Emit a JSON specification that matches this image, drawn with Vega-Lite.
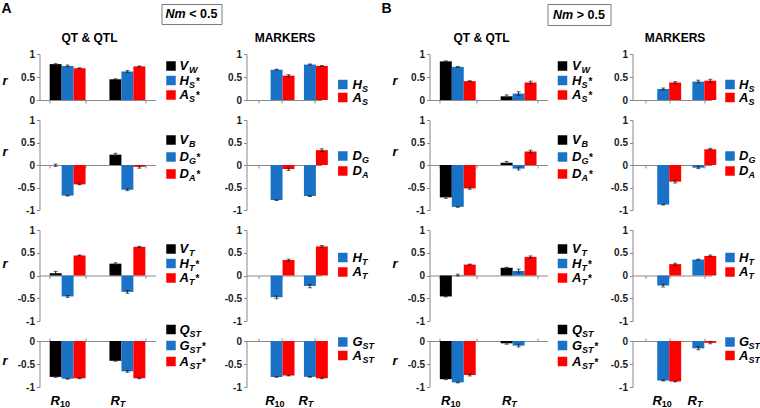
{
"$schema": "https://vega.github.io/schema/vega-lite/v6.json",
"autosize": {"type": "pad"},
"padding": {"left": 1.5, "top": 2, "right": 0, "bottom": 0},
"columns": 8,
"spacing": {"row": 20, "column": 0},
"align": "each",
"bounds": "flush",
"datasets": {
"hdr": [{"c":"A","t1":"Nm","t2":"< 0.5"},{"c":"B","t1":"Nm","t2":"> 0.5"}],
"leg": [
{"lg":"Q1","e":1,"b":"Q","m":"V","s":"W","st":""},{"lg":"Q1","e":2,"b":"G","m":"H","s":"S","st":"*"},{"lg":"Q1","e":3,"b":"A","m":"A","s":"S","st":"*"},
{"lg":"M1","e":1,"b":"G","m":"H","s":"S","st":""},{"lg":"M1","e":2,"b":"A","m":"A","s":"S","st":""},
{"lg":"Q2","e":1,"b":"Q","m":"V","s":"B","st":""},{"lg":"Q2","e":2,"b":"G","m":"D","s":"G","st":"*"},{"lg":"Q2","e":3,"b":"A","m":"D","s":"A","st":"*"},
{"lg":"M2","e":1,"b":"G","m":"D","s":"G","st":""},{"lg":"M2","e":2,"b":"A","m":"D","s":"A","st":""},
{"lg":"Q3","e":1,"b":"Q","m":"V","s":"T","st":""},{"lg":"Q3","e":2,"b":"G","m":"H","s":"T","st":"*"},{"lg":"Q3","e":3,"b":"A","m":"A","s":"T","st":"*"},
{"lg":"M3","e":1,"b":"G","m":"H","s":"T","st":""},{"lg":"M3","e":2,"b":"A","m":"A","s":"T","st":""},
{"lg":"Q4","e":1,"b":"Q","m":"Q","s":"ST","st":""},{"lg":"Q4","e":2,"b":"G","m":"G","s":"ST","st":"*"},{"lg":"Q4","e":3,"b":"A","m":"A","s":"ST","st":"*"},
{"lg":"M4","e":1,"b":"G","m":"G","s":"ST","st":""},{"lg":"M4","e":2,"b":"A","m":"A","s":"ST","st":""}
],
"bars": [
{"p":"A_Q1","g":"R10","b":"Q","v":0.78,"lo":0.77,"hi":0.79},
{"p":"A_Q1","g":"R10","b":"G","v":0.74,"lo":0.72,"hi":0.76},
{"p":"A_Q1","g":"R10","b":"A","v":0.69,"lo":0.68,"hi":0.70},
{"p":"A_Q1","g":"RT","b":"Q","v":0.45,"lo":0.44,"hi":0.46},
{"p":"A_Q1","g":"RT","b":"G","v":0.62,"lo":0.60,"hi":0.64},
{"p":"A_Q1","g":"RT","b":"A","v":0.73,"lo":0.72,"hi":0.74},
{"p":"A_M1","g":"R10","b":"G","v":0.66,"lo":0.65,"hi":0.67},
{"p":"A_M1","g":"R10","b":"A","v":0.53,"lo":0.51,"hi":0.55},
{"p":"A_M1","g":"RT","b":"G","v":0.77,"lo":0.76,"hi":0.78},
{"p":"A_M1","g":"RT","b":"A","v":0.74,"lo":0.73,"hi":0.75},
{"p":"A_Q2","g":"R10","b":"Q","v":0.0,"lo":-0.03,"hi":0.02},
{"p":"A_Q2","g":"R10","b":"G","v":-0.68,"lo":-0.69,"hi":-0.67},
{"p":"A_Q2","g":"R10","b":"A","v":-0.43,"lo":-0.44,"hi":-0.42},
{"p":"A_Q2","g":"RT","b":"Q","v":0.23,"lo":0.21,"hi":0.26},
{"p":"A_Q2","g":"RT","b":"G","v":-0.55,"lo":-0.57,"hi":-0.53},
{"p":"A_Q2","g":"RT","b":"A","v":-0.04,"lo":-0.07,"hi":-0.02},
{"p":"A_M2","g":"R10","b":"G","v":-0.78,"lo":-0.79,"hi":-0.77},
{"p":"A_M2","g":"R10","b":"A","v":-0.09,"lo":-0.12,"hi":-0.07},
{"p":"A_M2","g":"RT","b":"G","v":-0.69,"lo":-0.70,"hi":-0.68},
{"p":"A_M2","g":"RT","b":"A","v":0.33,"lo":0.30,"hi":0.36},
{"p":"A_Q3","g":"R10","b":"Q","v":0.05,"lo":0.02,"hi":0.09},
{"p":"A_Q3","g":"R10","b":"G","v":-0.46,"lo":-0.48,"hi":-0.44},
{"p":"A_Q3","g":"R10","b":"A","v":0.44,"lo":0.43,"hi":0.45},
{"p":"A_Q3","g":"RT","b":"Q","v":0.26,"lo":0.24,"hi":0.28},
{"p":"A_Q3","g":"RT","b":"G","v":-0.36,"lo":-0.39,"hi":-0.33},
{"p":"A_Q3","g":"RT","b":"A","v":0.63,"lo":0.62,"hi":0.64},
{"p":"A_M3","g":"R10","b":"G","v":-0.48,"lo":-0.51,"hi":-0.45},
{"p":"A_M3","g":"R10","b":"A","v":0.34,"lo":0.32,"hi":0.36},
{"p":"A_M3","g":"RT","b":"G","v":-0.23,"lo":-0.27,"hi":-0.20},
{"p":"A_M3","g":"RT","b":"A","v":0.64,"lo":0.62,"hi":0.66},
{"p":"A_Q4","g":"R10","b":"Q","v":-0.78,"lo":-0.79,"hi":-0.77},
{"p":"A_Q4","g":"R10","b":"G","v":-0.82,"lo":-0.83,"hi":-0.81},
{"p":"A_Q4","g":"R10","b":"A","v":-0.81,"lo":-0.82,"hi":-0.80},
{"p":"A_Q4","g":"RT","b":"Q","v":-0.43,"lo":-0.44,"hi":-0.42},
{"p":"A_Q4","g":"RT","b":"G","v":-0.66,"lo":-0.68,"hi":-0.64},
{"p":"A_Q4","g":"RT","b":"A","v":-0.81,"lo":-0.82,"hi":-0.80},
{"p":"A_M4","g":"R10","b":"G","v":-0.78,"lo":-0.79,"hi":-0.77},
{"p":"A_M4","g":"R10","b":"A","v":-0.75,"lo":-0.76,"hi":-0.74},
{"p":"A_M4","g":"RT","b":"G","v":-0.78,"lo":-0.79,"hi":-0.77},
{"p":"A_M4","g":"RT","b":"A","v":-0.81,"lo":-0.82,"hi":-0.80},
{"p":"B_Q1","g":"R10","b":"Q","v":0.84,"lo":0.83,"hi":0.85},
{"p":"B_Q1","g":"R10","b":"G","v":0.72,"lo":0.71,"hi":0.73},
{"p":"B_Q1","g":"R10","b":"A","v":0.41,"lo":0.40,"hi":0.42},
{"p":"B_Q1","g":"RT","b":"Q","v":0.08,"lo":0.05,"hi":0.11},
{"p":"B_Q1","g":"RT","b":"G","v":0.14,"lo":0.10,"hi":0.18},
{"p":"B_Q1","g":"RT","b":"A","v":0.38,"lo":0.35,"hi":0.41},
{"p":"B_M1","g":"R10","b":"G","v":0.24,"lo":0.22,"hi":0.26},
{"p":"B_M1","g":"R10","b":"A","v":0.38,"lo":0.36,"hi":0.40},
{"p":"B_M1","g":"RT","b":"G","v":0.40,"lo":0.37,"hi":0.43},
{"p":"B_M1","g":"RT","b":"A","v":0.42,"lo":0.39,"hi":0.45},
{"p":"B_Q2","g":"R10","b":"Q","v":-0.72,"lo":-0.74,"hi":-0.70},
{"p":"B_Q2","g":"R10","b":"G","v":-0.93,"lo":-0.94,"hi":-0.92},
{"p":"B_Q2","g":"R10","b":"A","v":-0.52,"lo":-0.54,"hi":-0.50},
{"p":"B_Q2","g":"RT","b":"Q","v":0.05,"lo":0.03,"hi":0.08},
{"p":"B_Q2","g":"RT","b":"G","v":-0.08,"lo":-0.11,"hi":-0.06},
{"p":"B_Q2","g":"RT","b":"A","v":0.30,"lo":0.27,"hi":0.33},
{"p":"B_M2","g":"R10","b":"G","v":-0.88,"lo":-0.89,"hi":-0.87},
{"p":"B_M2","g":"R10","b":"A","v":-0.37,"lo":-0.40,"hi":-0.34},
{"p":"B_M2","g":"RT","b":"G","v":-0.06,"lo":-0.08,"hi":-0.03},
{"p":"B_M2","g":"RT","b":"A","v":0.35,"lo":0.34,"hi":0.37},
{"p":"B_Q3","g":"R10","b":"Q","v":-0.46,"lo":-0.47,"hi":-0.45},
{"p":"B_Q3","g":"R10","b":"G","v":0.01,"lo":-0.01,"hi":0.03},
{"p":"B_Q3","g":"R10","b":"A","v":0.24,"lo":0.23,"hi":0.25},
{"p":"B_Q3","g":"RT","b":"Q","v":0.17,"lo":0.16,"hi":0.18},
{"p":"B_Q3","g":"RT","b":"G","v":0.10,"lo":0.06,"hi":0.14},
{"p":"B_Q3","g":"RT","b":"A","v":0.41,"lo":0.38,"hi":0.43},
{"p":"B_M3","g":"R10","b":"G","v":-0.22,"lo":-0.25,"hi":-0.19},
{"p":"B_M3","g":"R10","b":"A","v":0.25,"lo":0.22,"hi":0.27},
{"p":"B_M3","g":"RT","b":"G","v":0.35,"lo":0.34,"hi":0.36},
{"p":"B_M3","g":"RT","b":"A","v":0.43,"lo":0.42,"hi":0.45},
{"p":"B_Q4","g":"R10","b":"Q","v":-0.83,"lo":-0.84,"hi":-0.82},
{"p":"B_Q4","g":"R10","b":"G","v":-0.90,"lo":-0.91,"hi":-0.89},
{"p":"B_Q4","g":"R10","b":"A","v":-0.74,"lo":-0.76,"hi":-0.72},
{"p":"B_Q4","g":"RT","b":"Q","v":-0.05,"lo":-0.07,"hi":-0.03},
{"p":"B_Q4","g":"RT","b":"G","v":-0.10,"lo":-0.13,"hi":-0.07},
{"p":"B_M4","g":"R10","b":"G","v":-0.86,"lo":-0.87,"hi":-0.85},
{"p":"B_M4","g":"R10","b":"A","v":-0.88,"lo":-0.89,"hi":-0.87},
{"p":"B_M4","g":"RT","b":"G","v":-0.16,"lo":-0.19,"hi":-0.12},
{"p":"B_M4","g":"RT","b":"A","v":-0.04,"lo":-0.06,"hi":-0.01}
]
},
"concat": [
{"width":122,"height":30,"title":{"text":"A","anchor":"start","dx":-38,"dy":12,"fontSize":14,"baseline":"top","offset":0},"data":{"values":[]},"mark":"point"},
{"width":60,"height":20,"view":{"stroke":"#7a7a7a","strokeWidth":1},"data":{"name":"hdr"},"transform":[{"filter":"datum.c=='A'"}],
 "layer":[
 {"mark":{"type":"text","align":"right","baseline":"middle","dx":-5.8,"fontSize":12.5,"fontWeight":"bold","fontStyle":"italic"},"encoding":{"text":{"field":"t1"}}},
 {"mark":{"type":"text","align":"left","baseline":"middle","dx":-2.3,"fontSize":12.5,"fontWeight":"bold"},"encoding":{"text":{"field":"t2"}}}]},
{"width":10,"height":30,"title":{"text":"B","anchor":"start","dx":135,"dy":12,"fontSize":14,"baseline":"top","offset":0},"data":{"values":[]},"mark":"point"},
{"width":1,"height":1,"data":{"values":[]},"mark":"point"},
{"width":1,"height":1,"data":{"values":[]},"mark":"point"},
{"width":63,"height":21,"view":{"stroke":"#7a7a7a","strokeWidth":1},"data":{"name":"hdr"},"transform":[{"filter":"datum.c=='B'"}],
 "layer":[
 {"mark":{"type":"text","align":"right","baseline":"middle","dx":-5.8,"fontSize":12.5,"fontWeight":"bold","fontStyle":"italic"},"encoding":{"text":{"field":"t1"}}},
 {"mark":{"type":"text","align":"left","baseline":"middle","dx":-2.3,"fontSize":12.5,"fontWeight":"bold"},"encoding":{"text":{"field":"t2"}}}]},
{"width":1,"height":1,"data":{"values":[]},"mark":"point"},
{"width":1,"height":1,"data":{"values":[]},"mark":"point"},

{"width":116,"height":46,"title":{"text":"QT & QTL","dx":-8,"offset":4},"data":{"name":"bars"},"transform":[{"filter":"datum.p=='A_Q1'"}],
 "encoding":{"x":{"field":"g","type":"nominal","scale":{"domain":["R10","RT"],"paddingInner":0.4,"paddingOuter":0.17},"axis":{"title":null,"labels":false,"tickBand":"extent"}},
  "xOffset":{"field":"b","type":"nominal","scale":{"domain":["Q","G","A"]}},
  "y":{"field":"v","type":"quantitative","scale":{"domain":[0,1],"nice":false},"axis":{"values":[0,0.5,1],"labelExpr":"datum.value+''","title":"r","titleX":-35,"titleY":26}}},
 "layer":[
  {"mark":"bar","encoding":{"color":{"field":"b","type":"nominal","scale":{"domain":["Q","G","A"],"range":["#000000","#1a72c6","#ff0000"]},"legend":null}}},
  {"mark":{"type":"rule","color":"#222"},"encoding":{"y":{"field":"lo","type":"quantitative"},"y2":{"field":"hi"}}},
  {"mark":{"type":"tick","color":"#222","size":4,"thickness":1},"encoding":{"y":{"field":"lo","type":"quantitative"}}},
  {"mark":{"type":"tick","color":"#222","size":4,"thickness":1},"encoding":{"y":{"field":"hi","type":"quantitative"}}}]},
{"width":85,"height":46,"data":{"name":"leg"},"transform":[{"filter":"datum.lg=='Q1'"}],
 "encoding":{"y":{"field":"e","type":"ordinal","axis":null,"scale":{"type":"point","range":[12,41],"padding":0}}},
 "layer":[
  {"mark":{"type":"point","shape":"square","filled":true,"size":90,"opacity":1,"xOffset":-33},"encoding":{"color":{"field":"b","type":"nominal","scale":{"domain":["Q","G","A"],"range":["#000000","#1a72c6","#ff0000"]},"legend":null}}},
  {"mark":{"type":"text","align":"left","baseline":"middle","dx":-24.5,"fontSize":13,"fontWeight":"bold","fontStyle":"italic"},"encoding":{"text":{"field":"m"}}},
  {"mark":{"type":"text","align":"left","baseline":"middle","dx":-15,"dy":4,"fontSize":9,"fontWeight":"bold","fontStyle":"italic"},"encoding":{"text":{"field":"s"}}},
  {"transform":[{"filter":"datum.st!='' && length(datum.s)==1"}],"mark":{"type":"text","align":"left","baseline":"middle","dx":-8,"dy":1,"fontSize":10,"fontWeight":"bold"},"encoding":{"text":{"field":"st"}}}]},
{"width":75,"height":46,"title":{"text":"MARKERS","dx":1,"offset":4},"data":{"name":"bars"},"transform":[{"filter":"datum.p=='A_M1'"}],
 "encoding":{"x":{"field":"g","type":"nominal","scale":{"domain":["R10","RT"],"paddingInner":0.31,"paddingOuter":0.28,"align":0.65},"axis":{"title":null,"labels":false,"tickBand":"extent"}},
  "xOffset":{"field":"b","type":"nominal","scale":{"domain":["G","A"]}},
  "y":{"field":"v","type":"quantitative","scale":{"domain":[0,1],"nice":false},"axis":{"values":[0,0.5,1],"labelExpr":"datum.value+''","title":null}}},
 "layer":[
  {"mark":"bar","encoding":{"color":{"field":"b","type":"nominal","scale":{"domain":["Q","G","A"],"range":["#000000","#1a72c6","#ff0000"]},"legend":null}}},
  {"mark":{"type":"rule","color":"#222"},"encoding":{"y":{"field":"lo","type":"quantitative"},"y2":{"field":"hi"}}},
  {"mark":{"type":"tick","color":"#222","size":4,"thickness":1},"encoding":{"y":{"field":"lo","type":"quantitative"}}},
  {"mark":{"type":"tick","color":"#222","size":4,"thickness":1},"encoding":{"y":{"field":"hi","type":"quantitative"}}}]},
{"width":108,"height":46,"data":{"name":"leg"},"transform":[{"filter":"datum.lg=='M1'"}],
 "encoding":{"y":{"field":"e","type":"ordinal","axis":null,"scale":{"type":"point","range":[30.5,43.5],"padding":0}}},
 "layer":[
  {"mark":{"type":"point","shape":"square","filled":true,"size":90,"opacity":1,"xOffset":-32.7},"encoding":{"color":{"field":"b","type":"nominal","scale":{"domain":["Q","G","A"],"range":["#000000","#1a72c6","#ff0000"]},"legend":null}}},
  {"mark":{"type":"text","align":"left","baseline":"middle","dx":-23,"fontSize":13,"fontWeight":"bold","fontStyle":"italic"},"encoding":{"text":{"field":"m"}}},
  {"mark":{"type":"text","align":"left","baseline":"middle","dx":-13.5,"dy":4,"fontSize":9,"fontWeight":"bold","fontStyle":"italic"},"encoding":{"text":{"field":"s"}}}]},
{"width":118,"height":46,"title":{"text":"QT & QTL","dx":-7,"offset":4},"data":{"name":"bars"},"transform":[{"filter":"datum.p=='B_Q1'"}],
 "encoding":{"x":{"field":"g","type":"nominal","scale":{"domain":["R10","RT"],"paddingInner":0.4,"paddingOuter":0.17},"axis":{"title":null,"labels":false,"tickBand":"extent"}},
  "xOffset":{"field":"b","type":"nominal","scale":{"domain":["Q","G","A"]}},
  "y":{"field":"v","type":"quantitative","scale":{"domain":[0,1],"nice":false},"axis":{"values":[0,0.5,1],"labelExpr":"datum.value+''","title":"r","titleX":-35,"titleY":26}}},
 "layer":[
  {"mark":"bar","encoding":{"color":{"field":"b","type":"nominal","scale":{"domain":["Q","G","A"],"range":["#000000","#1a72c6","#ff0000"]},"legend":null}}},
  {"mark":{"type":"rule","color":"#222"},"encoding":{"y":{"field":"lo","type":"quantitative"},"y2":{"field":"hi"}}},
  {"mark":{"type":"tick","color":"#222","size":4,"thickness":1},"encoding":{"y":{"field":"lo","type":"quantitative"}}},
  {"mark":{"type":"tick","color":"#222","size":4,"thickness":1},"encoding":{"y":{"field":"hi","type":"quantitative"}}}]},
{"width":85,"height":46,"data":{"name":"leg"},"transform":[{"filter":"datum.lg=='Q1'"}],
 "encoding":{"y":{"field":"e","type":"ordinal","axis":null,"scale":{"type":"point","range":[12,41],"padding":0}}},
 "layer":[
  {"mark":{"type":"point","shape":"square","filled":true,"size":90,"opacity":1,"xOffset":-27.5},"encoding":{"color":{"field":"b","type":"nominal","scale":{"domain":["Q","G","A"],"range":["#000000","#1a72c6","#ff0000"]},"legend":null}}},
  {"mark":{"type":"text","align":"left","baseline":"middle","dx":-18,"fontSize":13,"fontWeight":"bold","fontStyle":"italic"},"encoding":{"text":{"field":"m"}}},
  {"mark":{"type":"text","align":"left","baseline":"middle","dx":-8.5,"dy":4,"fontSize":9,"fontWeight":"bold","fontStyle":"italic"},"encoding":{"text":{"field":"s"}}},
  {"transform":[{"filter":"datum.st!='' && length(datum.s)==1"}],"mark":{"type":"text","align":"left","baseline":"middle","dx":-1.5,"dy":1,"fontSize":10,"fontWeight":"bold"},"encoding":{"text":{"field":"st"}}}]},
{"width":79,"height":46,"title":{"text":"MARKERS","dx":3,"offset":4},"data":{"name":"bars"},"transform":[{"filter":"datum.p=='B_M1'"}],
 "encoding":{"x":{"field":"g","type":"nominal","scale":{"domain":["R10","RT"],"paddingInner":0.31,"paddingOuter":0.28,"align":0.65},"axis":{"title":null,"labels":false,"tickBand":"extent"}},
  "xOffset":{"field":"b","type":"nominal","scale":{"domain":["G","A"]}},
  "y":{"field":"v","type":"quantitative","scale":{"domain":[0,1],"nice":false},"axis":{"values":[0,0.5,1],"labelExpr":"datum.value+''","title":null}}},
 "layer":[
  {"mark":"bar","encoding":{"color":{"field":"b","type":"nominal","scale":{"domain":["Q","G","A"],"range":["#000000","#1a72c6","#ff0000"]},"legend":null}}},
  {"mark":{"type":"rule","color":"#222"},"encoding":{"y":{"field":"lo","type":"quantitative"},"y2":{"field":"hi"}}},
  {"mark":{"type":"tick","color":"#222","size":4,"thickness":1},"encoding":{"y":{"field":"lo","type":"quantitative"}}},
  {"mark":{"type":"tick","color":"#222","size":4,"thickness":1},"encoding":{"y":{"field":"hi","type":"quantitative"}}}]},
{"width":48,"height":46,"data":{"name":"leg"},"transform":[{"filter":"datum.lg=='M1'"}],
 "encoding":{"y":{"field":"e","type":"ordinal","axis":null,"scale":{"type":"point","range":[30.5,43.5],"padding":0}}},
 "layer":[
  {"mark":{"type":"point","shape":"square","filled":true,"size":90,"opacity":1,"xOffset":-5.5},"encoding":{"color":{"field":"b","type":"nominal","scale":{"domain":["Q","G","A"],"range":["#000000","#1a72c6","#ff0000"]},"legend":null}}},
  {"mark":{"type":"text","align":"left","baseline":"middle","dx":3.5,"fontSize":13,"fontWeight":"bold","fontStyle":"italic"},"encoding":{"text":{"field":"m"}}},
  {"mark":{"type":"text","align":"left","baseline":"middle","dx":13,"dy":4,"fontSize":9,"fontWeight":"bold","fontStyle":"italic"},"encoding":{"text":{"field":"s"}}}]},

{"width":116,"height":90,"data":{"name":"bars"},"transform":[{"filter":"datum.p=='A_Q2'"}],
 "encoding":{"x":{"field":"g","type":"nominal","scale":{"domain":["R10","RT"],"paddingInner":0.4,"paddingOuter":0.17},"axis":{"title":null,"labels":false,"tickBand":"extent","offset":-45}},
  "xOffset":{"field":"b","type":"nominal","scale":{"domain":["Q","G","A"]}},
  "y":{"field":"v","type":"quantitative","scale":{"domain":[-1,1],"nice":false},"axis":{"values":[-1,-0.5,0,0.5,1],"labelExpr":"datum.value+''","title":"r","titleX":-35,"titleY":31}}},
 "layer":[
  {"mark":"bar","encoding":{"color":{"field":"b","type":"nominal","scale":{"domain":["Q","G","A"],"range":["#000000","#1a72c6","#ff0000"]},"legend":null}}},
  {"mark":{"type":"rule","color":"#222"},"encoding":{"y":{"field":"lo","type":"quantitative"},"y2":{"field":"hi"}}},
  {"mark":{"type":"tick","color":"#222","size":4,"thickness":1},"encoding":{"y":{"field":"lo","type":"quantitative"}}},
  {"mark":{"type":"tick","color":"#222","size":4,"thickness":1},"encoding":{"y":{"field":"hi","type":"quantitative"}}}]},
{"width":85,"height":90,"data":{"name":"leg"},"transform":[{"filter":"datum.lg=='Q2'"}],
 "encoding":{"y":{"field":"e","type":"ordinal","axis":null,"scale":{"type":"point","range":[20,54],"padding":0}}},
 "layer":[
  {"mark":{"type":"point","shape":"square","filled":true,"size":90,"opacity":1,"xOffset":-33},"encoding":{"color":{"field":"b","type":"nominal","scale":{"domain":["Q","G","A"],"range":["#000000","#1a72c6","#ff0000"]},"legend":null}}},
  {"mark":{"type":"text","align":"left","baseline":"middle","dx":-24.5,"fontSize":13,"fontWeight":"bold","fontStyle":"italic"},"encoding":{"text":{"field":"m"}}},
  {"mark":{"type":"text","align":"left","baseline":"middle","dx":-15,"dy":4,"fontSize":9,"fontWeight":"bold","fontStyle":"italic"},"encoding":{"text":{"field":"s"}}},
  {"transform":[{"filter":"datum.st!='' && length(datum.s)==1"}],"mark":{"type":"text","align":"left","baseline":"middle","dx":-7.5,"dy":1,"fontSize":10,"fontWeight":"bold"},"encoding":{"text":{"field":"st"}}}]},
{"width":75,"height":90,"data":{"name":"bars"},"transform":[{"filter":"datum.p=='A_M2'"}],
 "encoding":{"x":{"field":"g","type":"nominal","scale":{"domain":["R10","RT"],"paddingInner":0.31,"paddingOuter":0.28,"align":0.65},"axis":{"title":null,"labels":false,"tickBand":"extent","offset":-45}},
  "xOffset":{"field":"b","type":"nominal","scale":{"domain":["G","A"]}},
  "y":{"field":"v","type":"quantitative","scale":{"domain":[-1,1],"nice":false},"axis":{"values":[-1,-0.5,0,0.5,1],"labelExpr":"datum.value+''","title":null}}},
 "layer":[
  {"mark":"bar","encoding":{"color":{"field":"b","type":"nominal","scale":{"domain":["Q","G","A"],"range":["#000000","#1a72c6","#ff0000"]},"legend":null}}},
  {"mark":{"type":"rule","color":"#222"},"encoding":{"y":{"field":"lo","type":"quantitative"},"y2":{"field":"hi"}}},
  {"mark":{"type":"tick","color":"#222","size":4,"thickness":1},"encoding":{"y":{"field":"lo","type":"quantitative"}}},
  {"mark":{"type":"tick","color":"#222","size":4,"thickness":1},"encoding":{"y":{"field":"hi","type":"quantitative"}}}]},
{"width":108,"height":90,"data":{"name":"leg"},"transform":[{"filter":"datum.lg=='M2'"}],
 "encoding":{"y":{"field":"e","type":"ordinal","axis":null,"scale":{"type":"point","range":[36,51],"padding":0}}},
 "layer":[
  {"mark":{"type":"point","shape":"square","filled":true,"size":90,"opacity":1,"xOffset":-32.7},"encoding":{"color":{"field":"b","type":"nominal","scale":{"domain":["Q","G","A"],"range":["#000000","#1a72c6","#ff0000"]},"legend":null}}},
  {"mark":{"type":"text","align":"left","baseline":"middle","dx":-23,"fontSize":13,"fontWeight":"bold","fontStyle":"italic"},"encoding":{"text":{"field":"m"}}},
  {"mark":{"type":"text","align":"left","baseline":"middle","dx":-13.5,"dy":4,"fontSize":9,"fontWeight":"bold","fontStyle":"italic"},"encoding":{"text":{"field":"s"}}}]},
{"width":118,"height":90,"data":{"name":"bars"},"transform":[{"filter":"datum.p=='B_Q2'"}],
 "encoding":{"x":{"field":"g","type":"nominal","scale":{"domain":["R10","RT"],"paddingInner":0.4,"paddingOuter":0.17},"axis":{"title":null,"labels":false,"tickBand":"extent","offset":-45}},
  "xOffset":{"field":"b","type":"nominal","scale":{"domain":["Q","G","A"]}},
  "y":{"field":"v","type":"quantitative","scale":{"domain":[-1,1],"nice":false},"axis":{"values":[-1,-0.5,0,0.5,1],"labelExpr":"datum.value+''","title":"r","titleX":-35,"titleY":31}}},
 "layer":[
  {"mark":"bar","encoding":{"color":{"field":"b","type":"nominal","scale":{"domain":["Q","G","A"],"range":["#000000","#1a72c6","#ff0000"]},"legend":null}}},
  {"mark":{"type":"rule","color":"#222"},"encoding":{"y":{"field":"lo","type":"quantitative"},"y2":{"field":"hi"}}},
  {"mark":{"type":"tick","color":"#222","size":4,"thickness":1},"encoding":{"y":{"field":"lo","type":"quantitative"}}},
  {"mark":{"type":"tick","color":"#222","size":4,"thickness":1},"encoding":{"y":{"field":"hi","type":"quantitative"}}}]},
{"width":85,"height":90,"data":{"name":"leg"},"transform":[{"filter":"datum.lg=='Q2'"}],
 "encoding":{"y":{"field":"e","type":"ordinal","axis":null,"scale":{"type":"point","range":[20,54],"padding":0}}},
 "layer":[
  {"mark":{"type":"point","shape":"square","filled":true,"size":90,"opacity":1,"xOffset":-27.5},"encoding":{"color":{"field":"b","type":"nominal","scale":{"domain":["Q","G","A"],"range":["#000000","#1a72c6","#ff0000"]},"legend":null}}},
  {"mark":{"type":"text","align":"left","baseline":"middle","dx":-18,"fontSize":13,"fontWeight":"bold","fontStyle":"italic"},"encoding":{"text":{"field":"m"}}},
  {"mark":{"type":"text","align":"left","baseline":"middle","dx":-8.5,"dy":4,"fontSize":9,"fontWeight":"bold","fontStyle":"italic"},"encoding":{"text":{"field":"s"}}},
  {"transform":[{"filter":"datum.st!='' && length(datum.s)==1"}],"mark":{"type":"text","align":"left","baseline":"middle","dx":-1,"dy":1,"fontSize":10,"fontWeight":"bold"},"encoding":{"text":{"field":"st"}}}]},
{"width":79,"height":90,"data":{"name":"bars"},"transform":[{"filter":"datum.p=='B_M2'"}],
 "encoding":{"x":{"field":"g","type":"nominal","scale":{"domain":["R10","RT"],"paddingInner":0.31,"paddingOuter":0.28,"align":0.65},"axis":{"title":null,"labels":false,"tickBand":"extent","offset":-45}},
  "xOffset":{"field":"b","type":"nominal","scale":{"domain":["G","A"]}},
  "y":{"field":"v","type":"quantitative","scale":{"domain":[-1,1],"nice":false},"axis":{"values":[-1,-0.5,0,0.5,1],"labelExpr":"datum.value+''","title":null}}},
 "layer":[
  {"mark":"bar","encoding":{"color":{"field":"b","type":"nominal","scale":{"domain":["Q","G","A"],"range":["#000000","#1a72c6","#ff0000"]},"legend":null}}},
  {"mark":{"type":"rule","color":"#222"},"encoding":{"y":{"field":"lo","type":"quantitative"},"y2":{"field":"hi"}}},
  {"mark":{"type":"tick","color":"#222","size":4,"thickness":1},"encoding":{"y":{"field":"lo","type":"quantitative"}}},
  {"mark":{"type":"tick","color":"#222","size":4,"thickness":1},"encoding":{"y":{"field":"hi","type":"quantitative"}}}]},
{"width":48,"height":90,"data":{"name":"leg"},"transform":[{"filter":"datum.lg=='M2'"}],
 "encoding":{"y":{"field":"e","type":"ordinal","axis":null,"scale":{"type":"point","range":[36,51],"padding":0}}},
 "layer":[
  {"mark":{"type":"point","shape":"square","filled":true,"size":90,"opacity":1,"xOffset":-5.5},"encoding":{"color":{"field":"b","type":"nominal","scale":{"domain":["Q","G","A"],"range":["#000000","#1a72c6","#ff0000"]},"legend":null}}},
  {"mark":{"type":"text","align":"left","baseline":"middle","dx":3.5,"fontSize":13,"fontWeight":"bold","fontStyle":"italic"},"encoding":{"text":{"field":"m"}}},
  {"mark":{"type":"text","align":"left","baseline":"middle","dx":13,"dy":4,"fontSize":9,"fontWeight":"bold","fontStyle":"italic"},"encoding":{"text":{"field":"s"}}}]},

{"width":116,"height":91,"data":{"name":"bars"},"transform":[{"filter":"datum.p=='A_Q3'"}],
 "encoding":{"x":{"field":"g","type":"nominal","scale":{"domain":["R10","RT"],"paddingInner":0.4,"paddingOuter":0.17},"axis":{"title":null,"labels":false,"tickBand":"extent","offset":-45.5}},
  "xOffset":{"field":"b","type":"nominal","scale":{"domain":["Q","G","A"]}},
  "y":{"field":"v","type":"quantitative","scale":{"domain":[-1,1],"nice":false},"axis":{"values":[-1,-0.5,0,0.5,1],"labelExpr":"datum.value+''","title":"r","titleX":-35,"titleY":33.5}}},
 "layer":[
  {"mark":"bar","encoding":{"color":{"field":"b","type":"nominal","scale":{"domain":["Q","G","A"],"range":["#000000","#1a72c6","#ff0000"]},"legend":null}}},
  {"mark":{"type":"rule","color":"#222"},"encoding":{"y":{"field":"lo","type":"quantitative"},"y2":{"field":"hi"}}},
  {"mark":{"type":"tick","color":"#222","size":4,"thickness":1},"encoding":{"y":{"field":"lo","type":"quantitative"}}},
  {"mark":{"type":"tick","color":"#222","size":4,"thickness":1},"encoding":{"y":{"field":"hi","type":"quantitative"}}}]},
{"width":85,"height":91,"data":{"name":"leg"},"transform":[{"filter":"datum.lg=='Q3'"}],
 "encoding":{"y":{"field":"e","type":"ordinal","axis":null,"scale":{"type":"point","range":[19,48],"padding":0}}},
 "layer":[
  {"mark":{"type":"point","shape":"square","filled":true,"size":90,"opacity":1,"xOffset":-33},"encoding":{"color":{"field":"b","type":"nominal","scale":{"domain":["Q","G","A"],"range":["#000000","#1a72c6","#ff0000"]},"legend":null}}},
  {"mark":{"type":"text","align":"left","baseline":"middle","dx":-24.5,"fontSize":13,"fontWeight":"bold","fontStyle":"italic"},"encoding":{"text":{"field":"m"}}},
  {"mark":{"type":"text","align":"left","baseline":"middle","dx":-15,"dy":4,"fontSize":9,"fontWeight":"bold","fontStyle":"italic"},"encoding":{"text":{"field":"s"}}},
  {"transform":[{"filter":"datum.st!='' && length(datum.s)==1"}],"mark":{"type":"text","align":"left","baseline":"middle","dx":-8.5,"dy":1,"fontSize":10,"fontWeight":"bold"},"encoding":{"text":{"field":"st"}}}]},
{"width":75,"height":91,"data":{"name":"bars"},"transform":[{"filter":"datum.p=='A_M3'"}],
 "encoding":{"x":{"field":"g","type":"nominal","scale":{"domain":["R10","RT"],"paddingInner":0.31,"paddingOuter":0.28,"align":0.65},"axis":{"title":null,"labels":false,"tickBand":"extent","offset":-45.5}},
  "xOffset":{"field":"b","type":"nominal","scale":{"domain":["G","A"]}},
  "y":{"field":"v","type":"quantitative","scale":{"domain":[-1,1],"nice":false},"axis":{"values":[-1,-0.5,0,0.5,1],"labelExpr":"datum.value+''","title":null}}},
 "layer":[
  {"mark":"bar","encoding":{"color":{"field":"b","type":"nominal","scale":{"domain":["Q","G","A"],"range":["#000000","#1a72c6","#ff0000"]},"legend":null}}},
  {"mark":{"type":"rule","color":"#222"},"encoding":{"y":{"field":"lo","type":"quantitative"},"y2":{"field":"hi"}}},
  {"mark":{"type":"tick","color":"#222","size":4,"thickness":1},"encoding":{"y":{"field":"lo","type":"quantitative"}}},
  {"mark":{"type":"tick","color":"#222","size":4,"thickness":1},"encoding":{"y":{"field":"hi","type":"quantitative"}}}]},
{"width":108,"height":91,"data":{"name":"leg"},"transform":[{"filter":"datum.lg=='M3'"}],
 "encoding":{"y":{"field":"e","type":"ordinal","axis":null,"scale":{"type":"point","range":[27.5,42],"padding":0}}},
 "layer":[
  {"mark":{"type":"point","shape":"square","filled":true,"size":90,"opacity":1,"xOffset":-32.7},"encoding":{"color":{"field":"b","type":"nominal","scale":{"domain":["Q","G","A"],"range":["#000000","#1a72c6","#ff0000"]},"legend":null}}},
  {"mark":{"type":"text","align":"left","baseline":"middle","dx":-23,"fontSize":13,"fontWeight":"bold","fontStyle":"italic"},"encoding":{"text":{"field":"m"}}},
  {"mark":{"type":"text","align":"left","baseline":"middle","dx":-13.5,"dy":4,"fontSize":9,"fontWeight":"bold","fontStyle":"italic"},"encoding":{"text":{"field":"s"}}}]},
{"width":118,"height":91,"data":{"name":"bars"},"transform":[{"filter":"datum.p=='B_Q3'"}],
 "encoding":{"x":{"field":"g","type":"nominal","scale":{"domain":["R10","RT"],"paddingInner":0.4,"paddingOuter":0.17},"axis":{"title":null,"labels":false,"tickBand":"extent","offset":-45.5}},
  "xOffset":{"field":"b","type":"nominal","scale":{"domain":["Q","G","A"]}},
  "y":{"field":"v","type":"quantitative","scale":{"domain":[-1,1],"nice":false},"axis":{"values":[-1,-0.5,0,0.5,1],"labelExpr":"datum.value+''","title":"r","titleX":-35,"titleY":33.5}}},
 "layer":[
  {"mark":"bar","encoding":{"color":{"field":"b","type":"nominal","scale":{"domain":["Q","G","A"],"range":["#000000","#1a72c6","#ff0000"]},"legend":null}}},
  {"mark":{"type":"rule","color":"#222"},"encoding":{"y":{"field":"lo","type":"quantitative"},"y2":{"field":"hi"}}},
  {"mark":{"type":"tick","color":"#222","size":4,"thickness":1},"encoding":{"y":{"field":"lo","type":"quantitative"}}},
  {"mark":{"type":"tick","color":"#222","size":4,"thickness":1},"encoding":{"y":{"field":"hi","type":"quantitative"}}}]},
{"width":85,"height":91,"data":{"name":"leg"},"transform":[{"filter":"datum.lg=='Q3'"}],
 "encoding":{"y":{"field":"e","type":"ordinal","axis":null,"scale":{"type":"point","range":[19,48],"padding":0}}},
 "layer":[
  {"mark":{"type":"point","shape":"square","filled":true,"size":90,"opacity":1,"xOffset":-27.5},"encoding":{"color":{"field":"b","type":"nominal","scale":{"domain":["Q","G","A"],"range":["#000000","#1a72c6","#ff0000"]},"legend":null}}},
  {"mark":{"type":"text","align":"left","baseline":"middle","dx":-18,"fontSize":13,"fontWeight":"bold","fontStyle":"italic"},"encoding":{"text":{"field":"m"}}},
  {"mark":{"type":"text","align":"left","baseline":"middle","dx":-8.5,"dy":4,"fontSize":9,"fontWeight":"bold","fontStyle":"italic"},"encoding":{"text":{"field":"s"}}},
  {"transform":[{"filter":"datum.st!='' && length(datum.s)==1"}],"mark":{"type":"text","align":"left","baseline":"middle","dx":-2,"dy":1,"fontSize":10,"fontWeight":"bold"},"encoding":{"text":{"field":"st"}}}]},
{"width":79,"height":91,"data":{"name":"bars"},"transform":[{"filter":"datum.p=='B_M3'"}],
 "encoding":{"x":{"field":"g","type":"nominal","scale":{"domain":["R10","RT"],"paddingInner":0.31,"paddingOuter":0.28,"align":0.65},"axis":{"title":null,"labels":false,"tickBand":"extent","offset":-45.5}},
  "xOffset":{"field":"b","type":"nominal","scale":{"domain":["G","A"]}},
  "y":{"field":"v","type":"quantitative","scale":{"domain":[-1,1],"nice":false},"axis":{"values":[-1,-0.5,0,0.5,1],"labelExpr":"datum.value+''","title":null}}},
 "layer":[
  {"mark":"bar","encoding":{"color":{"field":"b","type":"nominal","scale":{"domain":["Q","G","A"],"range":["#000000","#1a72c6","#ff0000"]},"legend":null}}},
  {"mark":{"type":"rule","color":"#222"},"encoding":{"y":{"field":"lo","type":"quantitative"},"y2":{"field":"hi"}}},
  {"mark":{"type":"tick","color":"#222","size":4,"thickness":1},"encoding":{"y":{"field":"lo","type":"quantitative"}}},
  {"mark":{"type":"tick","color":"#222","size":4,"thickness":1},"encoding":{"y":{"field":"hi","type":"quantitative"}}}]},
{"width":48,"height":91,"data":{"name":"leg"},"transform":[{"filter":"datum.lg=='M3'"}],
 "encoding":{"y":{"field":"e","type":"ordinal","axis":null,"scale":{"type":"point","range":[27.5,42],"padding":0}}},
 "layer":[
  {"mark":{"type":"point","shape":"square","filled":true,"size":90,"opacity":1,"xOffset":-5.5},"encoding":{"color":{"field":"b","type":"nominal","scale":{"domain":["Q","G","A"],"range":["#000000","#1a72c6","#ff0000"]},"legend":null}}},
  {"mark":{"type":"text","align":"left","baseline":"middle","dx":3.5,"fontSize":13,"fontWeight":"bold","fontStyle":"italic"},"encoding":{"text":{"field":"m"}}},
  {"mark":{"type":"text","align":"left","baseline":"middle","dx":13,"dy":4,"fontSize":9,"fontWeight":"bold","fontStyle":"italic"},"encoding":{"text":{"field":"s"}}}]},

{"width":116,"height":46,"data":{"name":"bars"},"transform":[{"filter":"datum.p=='A_Q4'"}],
 "encoding":{"xOffset":{"field":"b","type":"nominal","scale":{"domain":["Q","G","A"]}},
  "y":{"field":"v","type":"quantitative","scale":{"domain":[-1,0],"nice":false},"axis":{"values":[-1,-0.5,0],"labelExpr":"datum.value+''","title":"r","titleX":-35,"titleY":19}}},
 "layer":[
  {"mark":"bar","encoding":{"x":{"field":"g","type":"nominal","scale":{"domain":["R10","RT"],"paddingInner":0.4,"paddingOuter":0.17},"axis":{"title":null,"labels":false,"tickBand":"extent","orient":"top"}},"color":{"field":"b","type":"nominal","scale":{"domain":["Q","G","A"],"range":["#000000","#1a72c6","#ff0000"]},"legend":null}}},
  {"mark":{"type":"rule","color":"#222"},"encoding":{"x":{"field":"g","type":"nominal","axis":{"title":null,"orient":"bottom","domain":false,"ticks":false,"tickSize":0,"labelAngle":0,"labelExpr":"'R'","labelAlign":"left","labelOffset":-17,"labelFontSize":13,"labelFontStyle":"italic","labelBaseline":"middle","labelPadding":13,"labelColor":"#000"}},"y":{"field":"lo","type":"quantitative"},"y2":{"field":"hi"}}},
  {"mark":{"type":"tick","color":"#222","size":4,"thickness":1},"encoding":{"x":{"field":"g","type":"nominal","axis":{"title":null,"orient":"bottom","domain":false,"ticks":false,"tickSize":0,"labelAngle":0,"labelExpr":"datum.value=='R10'?'10':'T'","labelAlign":"left","labelOffset":-7.6,"labelFontSize":9,"labelFontStyle":{"condition":{"test":"datum.value=='RT'","value":"italic"},"value":"normal"},"labelBaseline":"middle","labelPadding":16,"labelColor":"#000"}},"y":{"field":"lo","type":"quantitative"}}},
  {"mark":{"type":"tick","color":"#222","size":4,"thickness":1},"encoding":{"x":{"field":"g","type":"nominal","axis":null},"y":{"field":"hi","type":"quantitative"}}}],
 "resolve":{"axis":{"x":"independent"}}},
{"width":85,"height":46,"data":{"name":"leg"},"transform":[{"filter":"datum.lg=='Q4'"}],
 "encoding":{"y":{"field":"e","type":"ordinal","axis":null,"scale":{"type":"point","range":[-11.5,20.5],"padding":0}}},
 "layer":[
  {"mark":{"type":"point","shape":"square","filled":true,"size":90,"opacity":1,"xOffset":-33},"encoding":{"color":{"field":"b","type":"nominal","scale":{"domain":["Q","G","A"],"range":["#000000","#1a72c6","#ff0000"]},"legend":null}}},
  {"mark":{"type":"text","align":"left","baseline":"middle","dx":-24.5,"fontSize":13,"fontWeight":"bold","fontStyle":"italic"},"encoding":{"text":{"field":"m"}}},
  {"mark":{"type":"text","align":"left","baseline":"middle","dx":-14.5,"dy":4,"fontSize":9,"fontWeight":"bold","fontStyle":"italic"},"encoding":{"text":{"field":"s"}}},
  {"transform":[{"filter":"datum.st!='' && length(datum.s)==2"}],"mark":{"type":"text","align":"left","baseline":"middle","dx":-2,"dy":1,"fontSize":10,"fontWeight":"bold"},"encoding":{"text":{"field":"st"}}}]},
{"width":75,"height":46,"data":{"name":"bars"},"transform":[{"filter":"datum.p=='A_M4'"}],
 "encoding":{"xOffset":{"field":"b","type":"nominal","scale":{"domain":["G","A"]}},
  "y":{"field":"v","type":"quantitative","scale":{"domain":[-1,0],"nice":false},"axis":{"values":[-1,-0.5,0],"labelExpr":"datum.value+''","title":null}}},
 "layer":[
  {"mark":"bar","encoding":{"x":{"field":"g","type":"nominal","scale":{"domain":["R10","RT"],"paddingInner":0.31,"paddingOuter":0.28,"align":0.65},"axis":{"title":null,"labels":false,"tickBand":"extent","orient":"top"}},"color":{"field":"b","type":"nominal","scale":{"domain":["Q","G","A"],"range":["#000000","#1a72c6","#ff0000"]},"legend":null}}},
  {"mark":{"type":"rule","color":"#222"},"encoding":{"x":{"field":"g","type":"nominal","axis":{"title":null,"orient":"bottom","domain":false,"ticks":false,"tickSize":0,"labelAngle":0,"labelExpr":"'R'","labelAlign":"left","labelOffset":-5,"labelFontSize":13,"labelFontStyle":"italic","labelBaseline":"middle","labelPadding":13,"labelColor":"#000"}},"y":{"field":"lo","type":"quantitative"},"y2":{"field":"hi"}}},
  {"mark":{"type":"tick","color":"#222","size":4,"thickness":1},"encoding":{"x":{"field":"g","type":"nominal","axis":{"title":null,"orient":"bottom","domain":false,"ticks":false,"tickSize":0,"labelAngle":0,"labelExpr":"datum.value=='R10'?'10':'T'","labelAlign":"left","labelOffset":4.4,"labelFontSize":9,"labelFontStyle":{"condition":{"test":"datum.value=='RT'","value":"italic"},"value":"normal"},"labelBaseline":"middle","labelPadding":16,"labelColor":"#000"}},"y":{"field":"lo","type":"quantitative"}}},
  {"mark":{"type":"tick","color":"#222","size":4,"thickness":1},"encoding":{"x":{"field":"g","type":"nominal","axis":null},"y":{"field":"hi","type":"quantitative"}}}],
 "resolve":{"axis":{"x":"independent"}}},
{"width":108,"height":46,"data":{"name":"leg"},"transform":[{"filter":"datum.lg=='M4'"}],
 "encoding":{"y":{"field":"e","type":"ordinal","axis":null,"scale":{"type":"point","range":[1,14.5],"padding":0}}},
 "layer":[
  {"mark":{"type":"point","shape":"square","filled":true,"size":90,"opacity":1,"xOffset":-32.7},"encoding":{"color":{"field":"b","type":"nominal","scale":{"domain":["Q","G","A"],"range":["#000000","#1a72c6","#ff0000"]},"legend":null}}},
  {"mark":{"type":"text","align":"left","baseline":"middle","dx":-23,"fontSize":13,"fontWeight":"bold","fontStyle":"italic"},"encoding":{"text":{"field":"m"}}},
  {"mark":{"type":"text","align":"left","baseline":"middle","dx":-13,"dy":4,"fontSize":9,"fontWeight":"bold","fontStyle":"italic"},"encoding":{"text":{"field":"s"}}}]},
{"width":118,"height":46,"data":{"name":"bars"},"transform":[{"filter":"datum.p=='B_Q4'"}],
 "encoding":{"xOffset":{"field":"b","type":"nominal","scale":{"domain":["Q","G","A"]}},
  "y":{"field":"v","type":"quantitative","scale":{"domain":[-1,0],"nice":false},"axis":{"values":[-1,-0.5,0],"labelExpr":"datum.value+''","title":"r","titleX":-35,"titleY":19}}},
 "layer":[
  {"mark":"bar","encoding":{"x":{"field":"g","type":"nominal","scale":{"domain":["R10","RT"],"paddingInner":0.4,"paddingOuter":0.17},"axis":{"title":null,"labels":false,"tickBand":"extent","orient":"top"}},"color":{"field":"b","type":"nominal","scale":{"domain":["Q","G","A"],"range":["#000000","#1a72c6","#ff0000"]},"legend":null}}},
  {"mark":{"type":"rule","color":"#222"},"encoding":{"x":{"field":"g","type":"nominal","axis":{"title":null,"orient":"bottom","domain":false,"ticks":false,"tickSize":0,"labelAngle":0,"labelExpr":"'R'","labelAlign":"left","labelOffset":-17,"labelFontSize":13,"labelFontStyle":"italic","labelBaseline":"middle","labelPadding":13,"labelColor":"#000"}},"y":{"field":"lo","type":"quantitative"},"y2":{"field":"hi"}}},
  {"mark":{"type":"tick","color":"#222","size":4,"thickness":1},"encoding":{"x":{"field":"g","type":"nominal","axis":{"title":null,"orient":"bottom","domain":false,"ticks":false,"tickSize":0,"labelAngle":0,"labelExpr":"datum.value=='R10'?'10':'T'","labelAlign":"left","labelOffset":-7.6,"labelFontSize":9,"labelFontStyle":{"condition":{"test":"datum.value=='RT'","value":"italic"},"value":"normal"},"labelBaseline":"middle","labelPadding":16,"labelColor":"#000"}},"y":{"field":"lo","type":"quantitative"}}},
  {"mark":{"type":"tick","color":"#222","size":4,"thickness":1},"encoding":{"x":{"field":"g","type":"nominal","axis":null},"y":{"field":"hi","type":"quantitative"}}}],
 "resolve":{"axis":{"x":"independent"}}},
{"width":85,"height":46,"data":{"name":"leg"},"transform":[{"filter":"datum.lg=='Q4'"}],
 "encoding":{"y":{"field":"e","type":"ordinal","axis":null,"scale":{"type":"point","range":[-11.5,20.5],"padding":0}}},
 "layer":[
  {"mark":{"type":"point","shape":"square","filled":true,"size":90,"opacity":1,"xOffset":-27.5},"encoding":{"color":{"field":"b","type":"nominal","scale":{"domain":["Q","G","A"],"range":["#000000","#1a72c6","#ff0000"]},"legend":null}}},
  {"mark":{"type":"text","align":"left","baseline":"middle","dx":-18,"fontSize":13,"fontWeight":"bold","fontStyle":"italic"},"encoding":{"text":{"field":"m"}}},
  {"mark":{"type":"text","align":"left","baseline":"middle","dx":-8,"dy":4,"fontSize":9,"fontWeight":"bold","fontStyle":"italic"},"encoding":{"text":{"field":"s"}}},
  {"transform":[{"filter":"datum.st!='' && length(datum.s)==2"}],"mark":{"type":"text","align":"left","baseline":"middle","dx":4.5,"dy":1,"fontSize":10,"fontWeight":"bold"},"encoding":{"text":{"field":"st"}}}]},
{"width":79,"height":46,"data":{"name":"bars"},"transform":[{"filter":"datum.p=='B_M4'"}],
 "encoding":{"xOffset":{"field":"b","type":"nominal","scale":{"domain":["G","A"]}},
  "y":{"field":"v","type":"quantitative","scale":{"domain":[-1,0],"nice":false},"axis":{"values":[-1,-0.5,0],"labelExpr":"datum.value+''","title":null}}},
 "layer":[
  {"mark":"bar","encoding":{"x":{"field":"g","type":"nominal","scale":{"domain":["R10","RT"],"paddingInner":0.31,"paddingOuter":0.28,"align":0.65},"axis":{"title":null,"labels":false,"tickBand":"extent","orient":"top"}},"color":{"field":"b","type":"nominal","scale":{"domain":["Q","G","A"],"range":["#000000","#1a72c6","#ff0000"]},"legend":null}}},
  {"mark":{"type":"rule","color":"#222"},"encoding":{"x":{"field":"g","type":"nominal","axis":{"title":null,"orient":"bottom","domain":false,"ticks":false,"tickSize":0,"labelAngle":0,"labelExpr":"'R'","labelAlign":"left","labelOffset":-5,"labelFontSize":13,"labelFontStyle":"italic","labelBaseline":"middle","labelPadding":13,"labelColor":"#000"}},"y":{"field":"lo","type":"quantitative"},"y2":{"field":"hi"}}},
  {"mark":{"type":"tick","color":"#222","size":4,"thickness":1},"encoding":{"x":{"field":"g","type":"nominal","axis":{"title":null,"orient":"bottom","domain":false,"ticks":false,"tickSize":0,"labelAngle":0,"labelExpr":"datum.value=='R10'?'10':'T'","labelAlign":"left","labelOffset":4.4,"labelFontSize":9,"labelFontStyle":{"condition":{"test":"datum.value=='RT'","value":"italic"},"value":"normal"},"labelBaseline":"middle","labelPadding":16,"labelColor":"#000"}},"y":{"field":"lo","type":"quantitative"}}},
  {"mark":{"type":"tick","color":"#222","size":4,"thickness":1},"encoding":{"x":{"field":"g","type":"nominal","axis":null},"y":{"field":"hi","type":"quantitative"}}}],
 "resolve":{"axis":{"x":"independent"}}},
{"width":48,"height":46,"data":{"name":"leg"},"transform":[{"filter":"datum.lg=='M4'"}],
 "encoding":{"y":{"field":"e","type":"ordinal","axis":null,"scale":{"type":"point","range":[1,14.5],"padding":0}}},
 "layer":[
  {"mark":{"type":"point","shape":"square","filled":true,"size":90,"opacity":1,"xOffset":-5.5},"encoding":{"color":{"field":"b","type":"nominal","scale":{"domain":["Q","G","A"],"range":["#000000","#1a72c6","#ff0000"]},"legend":null}}},
  {"mark":{"type":"text","align":"left","baseline":"middle","dx":3.5,"fontSize":13,"fontWeight":"bold","fontStyle":"italic"},"encoding":{"text":{"field":"m"}}},
  {"mark":{"type":"text","align":"left","baseline":"middle","dx":13,"dy":4,"fontSize":9,"fontWeight":"bold","fontStyle":"italic"},"encoding":{"text":{"field":"s"}}}]}
],
"config": {
 "view": {"stroke": null},
 "font": "Liberation Sans",
 "axis": {"domainColor":"#898989","tickColor":"#898989","tickSize":3,"labelFont":"Liberation Sans","labelFontSize":10,"labelFontWeight":"bold","labelColor":"#1a1a1a","labelPadding":2,"labelFlush":false,"labelOverlap":false,"grid":false,"titleFont":"Liberation Sans","titleFontSize":13,"titleFontWeight":"bold","titleFontStyle":"italic","titleAngle":0,"titleAlign":"center","titleBaseline":"middle","titleColor":"#000"},
 "title": {"font":"Liberation Sans","fontSize":12,"fontWeight":"bold","color":"#000"},
 "text": {"font":"Liberation Sans","color":"#000"}
}
}
